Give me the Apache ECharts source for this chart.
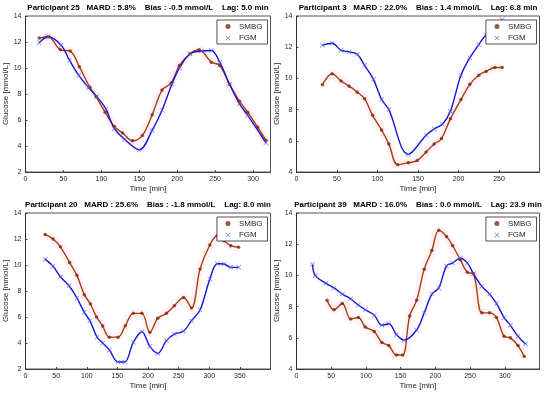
<!DOCTYPE html>
<html><head><meta charset="utf-8">
<script src="https://cdn.jsdelivr.net/npm/echarts@6/dist/echarts.min.js"></script>
<style>html,body{margin:0;padding:0;background:#fff}#c{width:550px;height:394px}</style>
</head><body><div id="c"></div>
<script>
// ---- Data ----
const titles = [
  'Participant 25   MARD : 5.8%    Bias : -0.5 mmol/L    Lag: 5.0 min',
  'Participant 3   MARD : 22.0%    Bias : 1.4 mmol/L    Lag: 6.8 min',
  'Participant 20   MARD : 25.6%    Bias : -1.8 mmol/L    Lag: 8.0 min',
  'Participant 39   MARD : 16.0%    Bias : 0.0 mmol/L    Lag: 23.9 min'
];
const xMax = [323, 300, 400, 350];
const yMin = [2, 4, 2, 4];
const yMax = [14, 14, 14, 14];

const p25SmbgT = [18,30,46,59,71,85,93,105,117,128,141,154,167,180,192,203,217,229,245,256,269,282,293,306,317];
const p25SmbgG = [12.3,12.4,11.4,11.3,10.1,8.5,7.8,6.6,5.5,5.0,4.4,4.8,6.4,8.3,8.85,10.2,11.1,11.4,10.45,10.2,8.75,7.45,6.6,5.45,4.45];
const p25FgmT  = [18,30,47,58,70,83,94,106,117,131,150,167,180,193,203,217,232,245,256,269,282,293,317];
const p25FgmG  = [11.95,12.4,11.75,10.6,9.45,8.5,7.8,6.85,5.35,4.5,3.7,5.2,6.75,8.75,10.0,11.1,11.3,11.35,10.45,8.75,7.25,6.35,4.25];

const p3SmbgT = [32,44,55,65,75,84,94,105,114,125,138,149,160,170,179,190,203,214,225,234,245,254];
const p3SmbgG = [9.6,10.3,9.83,9.5,9.12,8.7,7.63,6.7,5.8,4.47,4.6,4.73,5.28,5.8,6.14,7.42,8.64,9.62,10.2,10.45,10.7,10.7];
const p3FgmT  = [32,44,55,65,75,84,95,105,114,138,160,170,180,190,203,214,225,234,254];
const p3FgmG  = [12.12,12.25,11.8,11.7,11.55,10.84,9.94,8.66,8.0,5.13,6.35,6.76,7.06,7.9,10.2,11.33,12.16,12.8,13.76];

const p20SmbgT = [32,45,57,72,84,96,106,116,126,137,151,163,176,190,203,216,230,243,258,271,285,301,313,324,335,348];
const p20SmbgG = [12.35,12.0,11.4,10.2,9.2,7.72,7.0,6.0,5.3,4.45,4.45,5.33,6.28,6.28,4.82,5.9,6.28,6.87,7.5,6.7,9.7,11.54,12.25,11.87,11.49,11.36];
const p20FgmT  = [32,45,57,71,84,96,105,117,126,137,151,162,176,190,203,216,230,243,258,271,285,301,313,324,335,348];
const p20FgmG  = [10.45,9.9,9.1,8.4,7.46,6.36,5.72,4.44,4.0,3.46,2.54,2.54,4.05,4.87,3.74,3.2,4.18,4.69,4.9,5.72,6.54,8.92,10.1,10.08,9.82,9.82];

const p39SmbgT = [44,54,66,78,89,99,112,123,133,144,153,163,173,184,195,205,216,225,236,246,255,267,278,288,299,308,319,328];
const p39SmbgG = [8.4,7.8,8.2,7.2,7.3,6.7,6.4,5.7,5.5,4.9,4.9,7.4,8.4,10.4,11.6,12.9,12.5,11.9,11.0,10.2,10.1,7.6,7.6,7.3,6.1,6.0,5.5,4.8];
const p39FgmT  = [23,27,42,54,66,78,89,99,112,123,133,144,155,173,184,195,205,216,225,236,246,255,267,278,288,299,308,319,330];
const p39FgmG  = [10.7,10.0,9.5,9.2,8.8,8.5,8.1,7.8,7.45,6.8,6.9,6.2,5.85,6.5,7.6,8.8,9.2,10.6,10.8,11.1,10.8,10.1,9.3,8.8,8.2,7.3,6.8,6.1,5.6];

const panels = [
  [p25SmbgT, p25SmbgG, p25FgmT, p25FgmG],
  [p3SmbgT, p3SmbgG, p3FgmT, p3FgmG],
  [p20SmbgT, p20SmbgG, p20FgmT, p20FgmG],
  [p39SmbgT, p39SmbgG, p39FgmT, p39FgmG]
];

// ---- Layout / style ----
const gridPos = [
  {left: 25.5, right: 279.5, top: 16, height: 156},
  {left: 296.5, right: 10.5, top: 16, height: 156},
  {left: 25.5, right: 279.5, top: 213, height: 156},
  {left: 296.5, right: 10.5, top: 213, height: 156}
];
const yNameGap = [14.5, 14, 14.5, 14];
const FONT = 'Liberation Sans';
const txt = '#262626';
const smbgLine = '#A8400C', smbgMark = '#7A2E10';
const fgmLine = '#1414D4', fgmMark = '#5A5AF0';
const xPath = 'path://M0,1L1,0L5,4L9,0L10,1L6,5L10,9L9,10L5,6L1,10L0,9L4,5Z';

const zip = (t, g) => t.map((v, i) => [v, g[i]]);

const option = {
  animation: false,
  textStyle: {fontFamily: FONT},
  title: [], grid: [], xAxis: [], yAxis: [], legend: [], series: []
};

panels.forEach((p, i) => {
  const g = gridPos[i];
  option.title.push({
    text: titles[i], left: g.left + (550 - g.left - g.right) / 2, top: g.top - 12, textAlign: 'center',
    padding: 0,
    textStyle: {fontFamily: FONT, fontSize: 8, fontWeight: 'bold', color: '#000'}
  });
  option.grid.push({left: g.left, right: g.right, top: g.top, height: g.height,
    show: true, borderColor: txt, borderWidth: 0.8, backgroundColor: 'transparent'});
  option.xAxis.push({
    type: 'value', gridIndex: i, min: 0, max: xMax[i], interval: 50,
    name: 'Time [min]', nameLocation: 'middle', nameGap: 13,
    nameTextStyle: {fontFamily: FONT, fontSize: 8, color: txt},
    axisLine: {show: true, lineStyle: {color: txt, width: 0.8}},
    axisTick: {show: true, inside: true, length: 2, lineStyle: {color: txt, width: 0.8}},
    axisLabel: {fontFamily: FONT, fontSize: 7, color: txt, margin: 4, showMaxLabel: false},
    splitLine: {show: false}
  });
  option.yAxis.push({
    type: 'value', gridIndex: i, min: yMin[i], max: yMax[i], interval: 2,
    name: 'Glucose [mmol/L]', nameLocation: 'middle', nameGap: yNameGap[i],
    nameTextStyle: {fontFamily: FONT, fontSize: 8, color: txt},
    axisLine: {show: true, lineStyle: {color: txt, width: 0.8}},
    axisTick: {show: true, inside: true, length: 2, lineStyle: {color: txt, width: 0.8}},
    axisLabel: {fontFamily: FONT, fontSize: 7, color: txt, margin: 4},
    splitLine: {show: false}
  });
  option.legend.push({
    right: g.right + 3, top: g.top + 4, orient: 'vertical',
    data: [
      {name: 'SMBG' + i, icon: 'circle', itemStyle: {color: smbgMark}},
      {name: 'FGM' + i, icon: xPath, itemStyle: {color: fgmMark}}
    ],
    formatter: n => n.replace(/\d+$/, ''),
    itemWidth: 5, itemHeight: 5, itemGap: 1.5,
    padding: [1.5, 5, 1, 8.5],
    borderColor: txt, borderWidth: 0.8, backgroundColor: '#fff',
    textStyle: {fontFamily: FONT, fontSize: 8, lineHeight: 10, color: txt, padding: [0, 0, 0, 3.5]}
  });
  const [st, sg, ft, fg] = p;
  option.series.push(
    {type: 'line', name: 'smbgHalo' + i, xAxisIndex: i, yAxisIndex: i, data: zip(st, sg),
     smooth: 0.35, showSymbol: false, silent: true,
     lineStyle: {color: 'rgba(255,120,190,0.09)', width: 9}, z: 1},
    {type: 'line', name: 'smbgCurve' + i, xAxisIndex: i, yAxisIndex: i, data: zip(st, sg),
     smooth: 0.35, showSymbol: false, lineStyle: {color: smbgLine, width: 1.4}, z: 2},
    {type: 'line', name: 'fgmCurve' + i, xAxisIndex: i, yAxisIndex: i, data: zip(ft, fg),
     smooth: 0.35, showSymbol: false, lineStyle: {color: fgmLine, width: 1.4}, z: 2},
    {type: 'scatter', name: 'SMBG' + i, xAxisIndex: i, yAxisIndex: i, data: zip(st, sg),
     symbol: 'circle', symbolSize: 3.5, itemStyle: {color: smbgMark}, z: 3},
    {type: 'scatter', name: 'FGM' + i, xAxisIndex: i, yAxisIndex: i, data: zip(ft, fg),
     symbol: xPath, symbolSize: 5, itemStyle: {color: fgmMark}, z: 3}
  );
});

const chart = echarts.init(document.getElementById('c'), null, {renderer: 'canvas'});
chart.setOption(option);
</script></body></html>
